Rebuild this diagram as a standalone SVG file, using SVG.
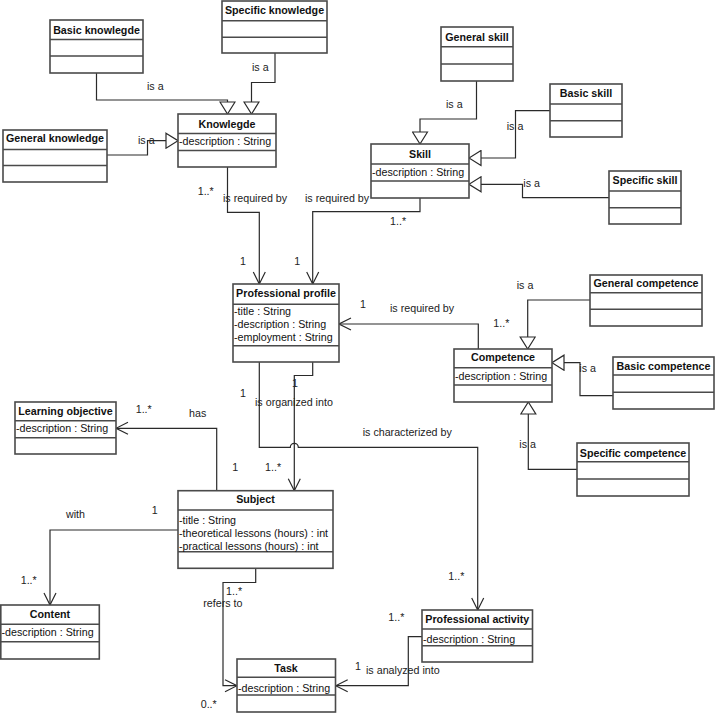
<svg xmlns="http://www.w3.org/2000/svg" width="715" height="713" viewBox="0 0 715 713">
<style>
.box{fill:#fff;stroke:#4a4a4a;stroke-width:1.6}
.div{stroke:#4a4a4a;stroke-width:1.4}
.h{font-family:"Liberation Sans",Arial,sans-serif;font-size:10.7px;font-weight:bold;fill:#111;text-anchor:middle}
.a{font-family:"Liberation Sans",Arial,sans-serif;font-size:10.7px;fill:#111}
.l{font-family:"Liberation Sans",Arial,sans-serif;font-size:10.7px;fill:#222}
.c{fill:none;stroke:#2a2a2a;stroke-width:1.2}
.g{marker-end:url(#gen)}
.o{marker-end:url(#open)}
</style>
<defs>
<marker id="gen" viewBox="-1 -1 14 17" refX="12" refY="7.5" markerWidth="14" markerHeight="17" markerUnits="userSpaceOnUse" orient="auto">
<path d="M0,0 L12,7.5 L0,15 Z" fill="#fff" stroke="#2a2a2a" stroke-width="1.2"/>
</marker>
<marker id="open" viewBox="-1 -1 14 14" refX="12" refY="6" markerWidth="14" markerHeight="14" markerUnits="userSpaceOnUse" orient="auto">
<path d="M0,0 L12,6 L0,12" fill="none" stroke="#2a2a2a" stroke-width="1.2"/>
</marker>
</defs>

<g id="connectors">
<path class="c g" d="M96.5,73 V100 H227.5 V114"/>
<path class="c g" d="M275,53 V82.5 H251.5 V114"/>
<path class="c g" d="M107,155 H147.5 V140.7 H178"/>
<path class="c g" d="M476.5,81 V119 H420 V144"/>
<path class="c g" d="M550,110.7 H515.5 V158 H469"/>
<path class="c g" d="M609,197.7 H522.5 V184.3 H469"/>
<path class="c g" d="M590,300 H527.7 V349"/>
<path class="c g" d="M613,395.7 H580 V362.7 H552"/>
<path class="c g" d="M577,469.3 H528.3 V402"/>
<path class="c o" d="M227.5,167 V212.3 H259.3 V284"/>
<path class="c o" d="M420,198 V211.7 H312.7 V284"/>
<path class="c o" d="M478.3,349 V324 H339"/>
<path class="c o" d="M312.7,362 V375.5 H294.3 V490.7"/>
<path class="c o" d="M259.3,362 V447.3 H290.3 A4,4 0 0 1 298.3,447.3 H477.7 V610"/>
<path class="c o" d="M216.7,490.7 V428.3 H116"/>
<path class="c o" d="M178,530 H50 V605"/>
<path class="c o" d="M255.7,568 V582.5 H223 V685.7 H237"/>
<path class="c o" d="M422,636.7 H408.3 V685.7 H335.7"/>
</g>

<g id="labels">
<text class="l" x="147" y="90">is a</text>
<text class="l" x="252" y="71">is a</text>
<text class="l" x="138" y="144">is a</text>
<text class="l" x="446" y="108">is a</text>
<text class="l" x="506.7" y="130">is a</text>
<text class="l" x="523.3" y="187">is a</text>
<text class="l" x="516.7" y="289">is a</text>
<text class="l" x="579.3" y="372">is a</text>
<text class="l" x="519.3" y="448">is a</text>
<text class="l" x="197.7" y="194.5">1..*</text>
<text class="l" x="223" y="202">is required by</text>
<text class="l" x="305" y="202">is required by</text>
<text class="l" x="390" y="225">1..*</text>
<text class="l" x="240" y="264.5">1</text>
<text class="l" x="294.3" y="264.5">1</text>
<text class="l" x="360" y="308">1</text>
<text class="l" x="390" y="312">is required by</text>
<text class="l" x="493.3" y="327">1..*</text>
<text class="l" x="240" y="397">1</text>
<text class="l" x="292" y="387">1</text>
<text class="l" x="255" y="406">is organized into</text>
<text class="l" x="362.7" y="436">is characterized by</text>
<text class="l" x="189" y="417">has</text>
<text class="l" x="135.7" y="413">1..*</text>
<text class="l" x="232.3" y="471">1</text>
<text class="l" x="265" y="471">1..*</text>
<text class="l" x="66" y="518">with</text>
<text class="l" x="151.7" y="514">1</text>
<text class="l" x="20.7" y="584">1..*</text>
<text class="l" x="226" y="595">1..*</text>
<text class="l" x="203.3" y="607">refers to</text>
<text class="l" x="200.7" y="708">0..*</text>
<text class="l" x="448.3" y="580">1..*</text>
<text class="l" x="388.3" y="621">1..*</text>
<text class="l" x="355" y="670">1</text>
<text class="l" x="366" y="674">is analyzed into</text>
</g>

<g id="basic-knowlegde">
<rect class="box" x="50" y="20" width="93" height="53"/>
<path class="div" d="M50,39.5 H143 M50,56 H143"/>
<text class="h" x="96.5" y="33.5">Basic knowlegde</text>
</g>
<g id="specific-knowledge">
<rect class="box" x="222" y="1" width="105" height="52"/>
<path class="div" d="M222,20.7 H327 M222,37.3 H327"/>
<text class="h" x="274.5" y="14">Specific knowledge</text>
</g>
<g id="knowlegde">
<rect class="box" x="178" y="114" width="98" height="53"/>
<path class="div" d="M178,133.5 H276 M178,150.5 H276"/>
<text class="h" x="227" y="127.5">Knowlegde</text>
<text class="a" x="179" y="145">-description : String</text>
</g>
<g id="general-knowledge">
<rect class="box" x="3" y="130" width="104" height="52"/>
<path class="div" d="M3,149.5 H107 M3,165.5 H107"/>
<text class="h" x="55" y="142">General knowledge</text>
</g>
<g id="general-skill">
<rect class="box" x="441" y="27" width="72" height="54"/>
<path class="div" d="M441,46.7 H513 M441,64 H513"/>
<text class="h" x="477" y="40.5">General skill</text>
</g>
<g id="basic-skill">
<rect class="box" x="550" y="84" width="72" height="53"/>
<path class="div" d="M550,104 H622 M550,120.7 H622"/>
<text class="h" x="586" y="97">Basic skill</text>
</g>
<g id="skill">
<rect class="box" x="371" y="144" width="98" height="54"/>
<path class="div" d="M371,164 H469 M371,181 H469"/>
<text class="h" x="420" y="158">Skill</text>
<text class="a" x="372" y="175.5">-description : String</text>
</g>
<g id="specific-skill">
<rect class="box" x="609" y="171" width="72" height="53"/>
<path class="div" d="M609,191 H681 M609,207.7 H681"/>
<text class="h" x="645" y="184">Specific skill</text>
</g>
<g id="professional-profile">
<rect class="box" x="233" y="284" width="106" height="78"/>
<path class="div" d="M233,304.3 H339 M233,345.7 H339"/>
<text class="h" x="286" y="297">Professional profile</text>
<text class="a" x="234" y="315">-title : String</text>
<text class="a" x="234" y="328">-description : String</text>
<text class="a" x="234" y="340.5">-employment : String</text>
</g>
<g id="general-competence">
<rect class="box" x="590" y="275" width="112" height="51"/>
<path class="div" d="M590,292.7 H702 M590,309.3 H702"/>
<text class="h" x="646" y="286.5">General competence</text>
</g>
<g id="competence">
<rect class="box" x="454" y="349" width="98" height="53"/>
<path class="div" d="M454,367.7 H552 M454,385 H552"/>
<text class="h" x="503" y="361">Competence</text>
<text class="a" x="455" y="379.5">-description : String</text>
</g>
<g id="basic-competence">
<rect class="box" x="613" y="357" width="101" height="52"/>
<path class="div" d="M613,375 H714 M613,392.3 H714"/>
<text class="h" x="663.5" y="370">Basic competence</text>
</g>
<g id="specific-competence">
<rect class="box" x="577" y="443" width="112" height="53"/>
<path class="div" d="M577,461.7 H689 M577,479 H689"/>
<text class="h" x="633" y="456.5">Specific competence</text>
</g>
<g id="learning-objective">
<rect class="box" x="15" y="402" width="101" height="52"/>
<path class="div" d="M15,420.7 H116 M15,437.7 H116"/>
<text class="h" x="65.5" y="415">Learning objective</text>
<text class="a" x="16" y="432">-description : String</text>
</g>
<g id="subject">
<rect class="box" x="178" y="490.7" width="155" height="77.6"/>
<path class="div" d="M178,510 H333 M178,551.7 H333"/>
<text class="h" x="255.5" y="503">Subject</text>
<text class="a" x="179" y="524">-title : String</text>
<text class="a" x="179" y="536.5">-theoretical lessons (hours) : int</text>
<text class="a" x="179" y="549.5">-practical lessons (hours) : int</text>
</g>
<g id="content">
<rect class="box" x="0.8" y="605" width="98.5" height="54"/>
<path class="div" d="M0.8,624.3 H99.3 M0.8,641.7 H99.3"/>
<text class="h" x="50" y="618">Content</text>
<text class="a" x="1.5" y="636">-description : String</text>
</g>
<g id="task">
<rect class="box" x="237" y="659" width="98.5" height="53"/>
<path class="div" d="M237,677.3 H335.5 M237,695 H335.5"/>
<text class="h" x="286" y="671.5">Task</text>
<text class="a" x="238" y="692">-description : String</text>
</g>
<g id="professional-activity">
<rect class="box" x="422" y="610" width="110.5" height="52"/>
<path class="div" d="M422,629 H532.5 M422,645.7 H532.5"/>
<text class="h" x="477.3" y="623">Professional activity</text>
<text class="a" x="423" y="643">-description : String</text>
</g>
</svg>
